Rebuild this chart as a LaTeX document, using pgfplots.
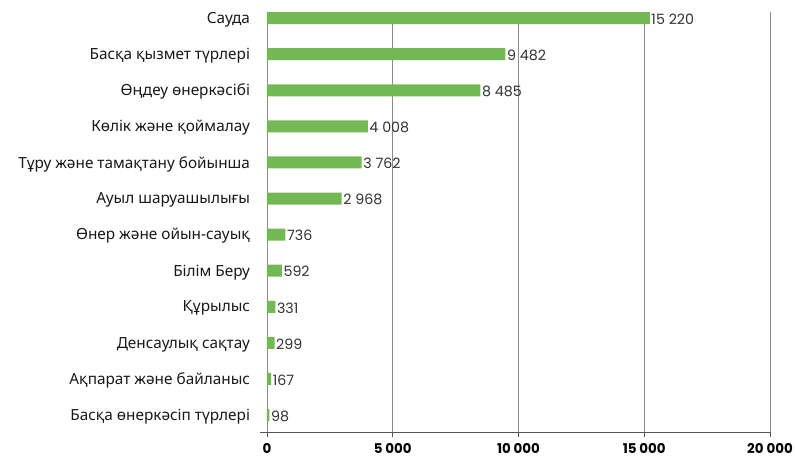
\documentclass[border=0pt]{standalone}
\usepackage{fontspec}
\setmainfont{Noto Sans}
\newfontfamily\numfont{Poppins}
\usepackage{pgfplots}
\pgfplotsset{compat=1.18}
\definecolor{barg}{HTML}{74B856}
\definecolor{gridc}{HTML}{8A8A8A}
\definecolor{axc}{HTML}{555555}
\definecolor{lbl}{HTML}{333333}
\begin{document}
\begin{tikzpicture}
\useasboundingbox (-260bp,-30bp) rectangle (535bp,432bp);
\begin{axis}[
  at={(0,0)}, anchor=south west,
  scale only axis, width=510bp, height=420bp,
  xmin=-278, xmax=20000, ymin=-0.47, ymax=11.17,
  xbar, bar width=12bp,
  axis x line*=bottom, axis y line*=left,
  y axis line style={draw=none},
  x axis line style={axc, line width=0.9pt},
  xtick={0,5000,10000,15000,20000},
  scaled x ticks=false,
  ytick={0,...,11},
  yticklabels={Басқа өнеркәсіп түрлері, Ақпарат және байланыс, Денсаулық сақтау, Құрылыс, Білім Беру, Өнер және ойын-сауық, Ауыл шаруашылығы, Тұру және тамақтану бойынша, Көлік және қоймалау, Өңдеу өнеркәсібі, Басқа қызмет түрлері, Сауда},
  y tick style={draw=none},
  x tick style={axc, line width=0.9pt},
  tick align=outside, major tick length=5bp,
  xmajorgrids, grid style={gridc, line width=0.9pt},
  /pgf/number format/assume math mode=true,
  /pgf/number format/.cd, 1000 sep={\ }, fixed, precision=0, /pgfplots/.cd,
  xticklabel style={font=\numfont\bfseries\fontsize{13.5}{15}\selectfont, text=black, yshift=-3bp},
  yticklabel style={font=\fontsize{15.4}{17}\selectfont, text=black!90, xshift=-1.5bp, yshift=-1.5bp},
  nodes near coords,
  nodes near coords style={anchor=west, inner sep=1.5bp, font=\numfont\fontsize{14.3}{15}\selectfont, text=lbl, yshift=-1bp},
]
\addplot[fill=barg, draw=none] coordinates {
(98,0) (167,1) (299,2) (331,3) (592,4) (736,5) (2968,6) (3762,7) (4008,8) (8485,9) (9482,10) (15220,11)
};
\end{axis}
\end{tikzpicture}
\end{document}
